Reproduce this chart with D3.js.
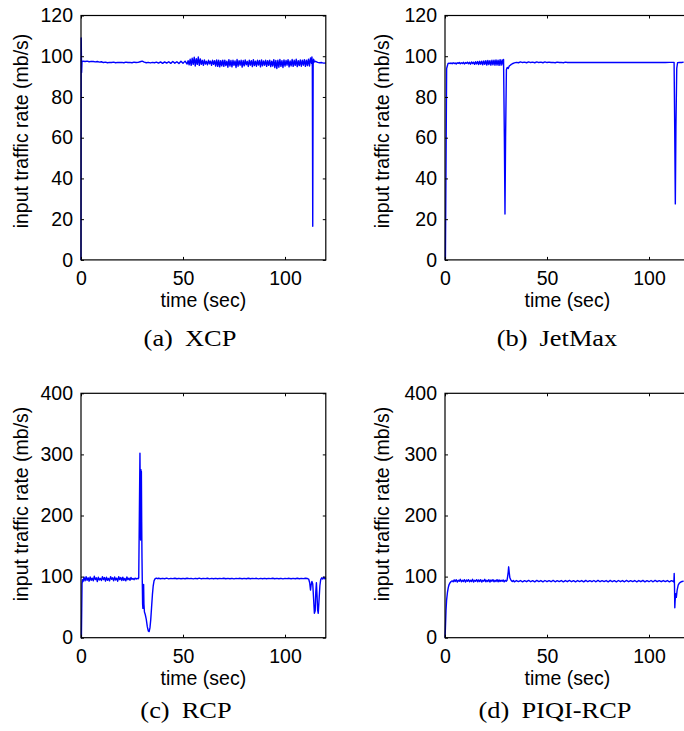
<!DOCTYPE html>
<html><head><meta charset="utf-8">
<script src="https://cdn.jsdelivr.net/npm/d3@7"></script>
<style>
html,body{margin:0;padding:0;background:#fff;}
svg{display:block;}
.tick text{font-family:"Liberation Sans",Arial,sans-serif;font-size:19.5px;fill:#000;}
.lbl{font-family:"Liberation Sans",Arial,sans-serif;font-size:19.5px;fill:#000;}
.cap{font-family:"Liberation Serif","Times New Roman",serif;font-size:24px;fill:#000;word-spacing:5px;}
</style>
</head><body>
<svg id="chart" width="684" height="731"></svg>
<script>
// ---- data (time in sec, input traffic rate in mb/s) ----
const xTicks = [0, 50, 100];
const yTicksTop = [0, 20, 40, 60, 80, 100, 120];
const yTicksBottom = [0, 100, 200, 300, 400];
const captions = ["(a) XCP", "(b) JetMax", "(c) RCP", "(d) PIQI-RCP"];
const xLabel = "time (sec)";
const yLabel = "input traffic rate (mb/s)";

const xcpSeries = [[0,0],[0.1,109],[0.3,92],[0.5,97.5],[1,97.6],[2,97.4],[3,97.6],[4,97.3],[5,97.5],[6,97.4],[7,97.2],[8,97.4],[9,97.1],[10,97.3],
[11,96.9],[12,97.1],[13,96.8],[14,97],[15,96.9],[16,97.1],[17,96.8],[18,97],[19,96.9],[20,97],[21,96.8],[22,97.1],[23,96.9],[24,97],[25,96.8],
[26,97.1],[27,96.9],[28,97],[29,97.3],[30,97.6],[31,97.1],[32,96.8],[33,97],[34,96.7],[35,97],[36,96.8],[37,97.1],[38,96.6],[39,97.2],[40,96.5],
[41,97.2],[42,96.6],[43,97.3],[44,96.5],[45,97.4],[46,96.6],[47,97.3],[48,96.4],[49,97.5],[50,96.5],[51,97.6],[52,96.2],[52.5,97.8],[53,95.8],
[53.5,98.5],[54,95.5],[54.5,99],[55,96],[55.5,99.5],[56,95.2],[56.5,98.8],[57,96],[57.5,99.6],[58,95.5],[58.5,98.7],[59,96],[59.5,98],[60,95.5],
[60.5,98.2],[61,96.2],[61.5,97.5],[62,95.8],[62.5,98],[63,96.3],[63.5,97.6],[64,95.5],[64.5,98],[65,96],[65.5,97.8],[66,95.2],[66.5,98.2],[67,95],
[67.5,98],[68,94.8],[68.5,97.8],[69,95.3],[69.5,98.1],[70,95.0],[70.5,98.1],[71,95.4],[71.5,97.6],[72,94.6],[72.5,98.3],[73,95.2],[73.5,97.9],
[74,94.8],[74.5,98.0],[75,95.5],[75.5,97.7],[76,94.5],[76.5,98.4],[77,95.1],[77.5,97.8],[78,95.6],[78.5,98.0],[79,94.7],[79.5,97.9],[80,95.3],
[80.5,98.2],[81,95.8],[81.5,97.5],[82,95.0],[82.5,98.1],[83,95.6],[83.5,97.8],[84,94.9],[84.5,98.3],[85,95.4],[85.5,97.6],[86,95.1],[86.5,98.0],
[87,95.7],[87.5,97.9],[88,94.8],[88.5,98.2],[89,95.3],[89.5,97.7],[90,95.6],[90.5,98.0],[91,95.0],[91.5,97.8],[92,95.5],[92.5,98.1],[93,94.9],
[93.5,97.6],[94,95.2],[94.5,98.3],[95,94.4],[95.5,97.9],[96,94.0],[96.5,98.0],[97,94.6],[97.5,98.4],[98,95.0],[98.5,97.8],[99,94.5],[99.5,98.2],
[100,95.2],[100.5,97.9],[101,95.6],[101.5,98.3],[102,94.8],[102.5,97.7],[103,95.3],[103.5,98.4],[104,95.0],[104.5,98.0],[105,95.5],[105.5,98.5],
[106,94.9],[106.5,97.8],[107,95.4],[107.5,98.2],[108,95.1],[108.5,98.0],[109,95.6],[109.5,98.3],[110,95.0],[110.5,98.1],[111,95.4],[111.5,98.6],
[112,95.2],[112.5,99.2],[113,96.5],[113.2,99.6],[113.4,95],[113.6,16.5],[113.8,96],[114,98.5],[114.5,97.2],[115,97.5],[116,97.0],[117,96.8],
[118,96.9],[119,96.6],[120,96.7]];

const jetmaxSeries = [[0,0],[0.2,0],[0.8,94],[1.5,96.5],[2,96.6],[2.5,96.4],[3,96.7],[3.5,96.3],[4,96.8],[4.5,96.4],[5,96.7],[5.5,96.2],[6,96.8],
[6.5,96.5],[7,96.9],[7.5,96.3],[8,96.8],[8.5,96.4],[9,97.0],[9.5,96.2],[10,96.9],[10.5,96.5],[11,97.1],[11.5,96.3],[12,97.0],[12.5,96.1],[13,97.2],
[13.5,96.4],[14,97.1],[14.5,96.0],[15,97.3],[15.5,96.2],[16,97.4],[16.5,95.9],[17,97.5],[17.5,96.1],[18,97.6],[18.5,95.8],[19,97.7],[19.5,96.0],
[20,97.8],[20.5,95.7],[21,97.9],[21.5,95.9],[22,97.8],[22.5,95.6],[23,98.0],[23.5,95.8],[24,98.1],[24.5,95.6],[25,98.2],[25.5,95.7],[26,98.1],
[26.5,95.5],[27,98.3],[27.5,95.6],[28,98.2],[28.5,95.8],[28.7,98.4],[29.1,60],[29.4,22.5],[29.7,60],[30.1,93.5],[30.5,94.5],[31,94.0],[31.5,95.2],
[32,95.6],[32.5,96.0],[33,96.3],[34,96.7],[35,97.0],[36,96.8],[37,97.2],[38,96.9],[39,97.1],[40,96.8],[41,97.2],[42,96.9],[43,97.1],[44,96.8],
[45,97.2],[46,96.9],[47,97.1],[48,96.8],[49,97.2],[50,96.9],[51,97.1],[52,96.9],[53,97.0],[54,96.8],[55,97.1],[56,96.9],[57,97.0],[58,96.8],
[59,97.1],[60,96.9],[62,97.0],[64,96.9],[66,97.0],[68,96.9],[70,97.0],[72,96.9],[74,97.0],[76,96.9],[78,97.0],[80,96.9],[82,97.0],[84,96.9],
[86,97.0],[88,96.9],[90,97.0],[92,96.9],[94,97.0],[96,96.9],[98,97.0],[100,96.9],[102,97.0],[104,96.9],[106,97.0],[108,96.9],[110,97.0],
[112.3,97],[112.6,65],[112.9,27.5],[113.2,65],[113.6,94],[114,96.8],[115,97],[116,96.9],[117,97.1]];

const rcpSeries = [[0,0],[0.2,0],[0.5,88],[0.8,95],[1,92],[1.5,99],[2,93],[2.5,100],[3,94],[3.5,98],[4,92.5],[4.5,99.5],[5,94],[5.5,97.5],[6,93],
[6.5,100.5],[7,95],[7.5,98],[8,92],[8.5,99],[9,94.5],[9.5,97],[10,93.5],[10.5,100],[11,95],[11.5,98.5],[12,92.5],[12.5,99],[13,94],[13.5,97],
[14,93],[14.5,100],[15,95.5],[15.5,98],[16,93],[16.5,99.5],[17,94.5],[17.5,97.5],[18,92.5],[18.5,100],[19,95],[19.5,98.5],[20,93.5],[20.5,99],
[21,94],[21.5,97],[22,93],[22.5,99.5],[23,95],[23.5,97.5],[24,94],[24.5,98.5],[25,95.5],[25.5,97],[26,95],[26.5,97.5],[27,96],[27.5,97],[28,96.5],
[28.3,98],[28.6,200],[28.9,302],[29.05,240],[29.2,160],[29.4,275],[29.5,210],[29.6,272],[29.75,190],[29.9,130],[30.05,90],[30.2,55],[30.35,48],
[30.5,65],[30.7,87],[30.85,55],[31.1,42],[31.5,38],[32,30],[32.5,18],[33,11],[33.4,10],[33.8,16],[34.2,30],[34.6,50],[35,70],[35.4,85],[35.8,93],
[36.3,96.5],[37,97.5],[37.5,96.5],[38,97.3],[39,96.4],[40,97.2],[41,96.5],[42,97.4],[43,96.3],[44,97.1],[45,96.6],[46,97.3],[47,96.4],[48,97.2],
[49,96.5],[50,97.0],[51,96.4],[52,97.3],[53,96.6],[54,97.1],[55,96.3],[56,97.2],[57,96.5],[58,97.4],[59,96.4],[60,97.0],[61,96.6],[62,97.3],
[63,96.2],[64,97.1],[65,96.5],[66,97.2],[67,96.4],[68,97.0],[69,96.6],[70,97.3],[71,96.4],[72,97.1],[73,96.5],[74,97.2],[75,96.3],[76,97.0],
[77,96.6],[78,97.2],[79,96.4],[80,97.1],[81,96.5],[82,97.3],[83,96.4],[84,97.0],[85,96.6],[86,97.2],[87,96.3],[88,97.1],[89,96.5],[90,97.2],
[91,96.4],[92,97.0],[93,96.6],[94,97.3],[95,96.4],[96,97.1],[97,96.5],[98,97.2],[99,96.3],[100,97.0],[101,96.6],[102,97.2],[103,96.4],[104,97.1],
[105,96.5],[106,97.3],[107,96.4],[108,97.0],[109,96.6],[110,97.2],[111,96.8],[111.6,96],[112.1,90],[112.5,78],[112.8,86],[113.2,92],[113.6,88],
[114,65],[114.4,40],[114.8,44],[115.1,75],[115.4,90],[115.7,70],[116,45],[116.3,40],[116.7,62],[117.1,85],[117.5,95],[118,98],[118.5,96],
[119,99],[119.5,96.5],[120,98]];

const piqiSeries = [[0,0],[0.2,15],[0.5,45],[0.8,62],[1.2,74],[1.6,82],[2,87],[2.5,90],[3,92],[3.5,93],[4,91.5],[4.5,94.5],[5,92],[5.5,95],[6,91],
[6.5,94],[7,92.5],[7.5,95.5],[8,91.5],[8.5,94],[9,92],[9.5,95],[10,91],[10.5,94.5],[11,92.5],[11.5,95],[12,91.5],[12.5,94],[13,92],[13.5,95.5],
[14,91],[14.5,94],[15,92.5],[15.5,95],[16,91.5],[16.5,94.5],[17,92],[17.5,95],[18,91],[18.5,94],[19,92.5],[19.5,95.5],[20,91.5],[20.5,94],[21,92],
[21.5,95],[22,91],[22.5,94.5],[23,92.5],[23.5,95],[24,91.5],[24.5,94],[25,92],[25.5,95],[26,91.5],[26.5,94.5],[27,92],[27.5,94],[28,92.5],
[28.5,94.5],[29,91.5],[29.5,94],[30,92.5],[30.4,94],[30.7,100],[31,108],[31.2,116],[31.5,106],[31.8,98],[32.2,95],[32.6,93],[33,92],[33.5,93.5],
[34,91.5],[35,93.5],[36,91.8],[37,93.6],[38,91.5],[39,93.4],[40,91.7],[41,93.8],[42,91.6],[43,93.3],[44,91.4],[45,93.7],[46,91.8],[47,93.5],
[48,91.5],[49,93.6],[50,91.7],[51,93.4],[52,91.6],[53,93.8],[54,91.5],[55,93.3],[56,91.8],[57,93.6],[58,91.4],[59,93.5],[60,91.7],[61,93.7],
[62,91.6],[63,93.4],[64,91.5],[65,93.6],[66,91.8],[67,93.5],[68,91.4],[69,93.7],[70,91.6],[71,93.3],[72,91.7],[73,93.6],[74,91.5],[75,93.8],
[76,91.6],[77,93.4],[78,91.8],[79,93.5],[80,91.5],[81,93.7],[82,91.6],[83,93.3],[84,91.4],[85,93.6],[86,91.7],[87,93.5],[88,91.5],[89,93.8],
[90,91.6],[91,93.4],[92,91.8],[93,93.6],[94,91.5],[95,93.5],[96,91.7],[97,93.7],[98,91.4],[99,93.3],[100,91.6],[101,93.6],[102,91.5],[103,93.8],
[104,91.7],[105,93.4],[106,91.6],[107,93.5],[108,91.8],[109,93.6],[110,91.5],[111,93.4],[112,92],[112.2,91],[112.35,105],[112.5,85],[112.65,49],
[112.8,60],[113.1,72],[113.4,66],[113.8,78],[114.3,86],[114.8,89],[115.5,91],[116.2,92],[117,92.5]];

// ---- layout ----
const svg = d3.select("#chart");
const plotW = 244.8, plotH = 244.4;
const panels = [
  {series: xcpSeries,    yMax: 120, yTicks: yTicksTop,    left: 81,  top: 15.5,  cap: captions[0], capX: 190, capY: 346, ylx: 22,  yly: 131},
  {series: jetmaxSeries, yMax: 120, yTicks: yTicksTop,    left: 445, top: 15.5,  cap: captions[1], capX: 557, capY: 346, ylx: 383, yly: 131},
  {series: rcpSeries,    yMax: 400, yTicks: yTicksBottom, left: 81,  top: 393.3, cap: captions[2], capX: 186, capY: 718, ylx: 22,  yly: 504},
  {series: piqiSeries,   yMax: 400, yTicks: yTicksBottom, left: 445, top: 393.3, cap: captions[3], capX: 555, capY: 718, ylx: 383, yly: 504}
];

panels.forEach(p => {
  const x = d3.scaleLinear().domain([0, 120]).range([p.left, p.left + plotW]);
  const y = d3.scaleLinear().domain([0, p.yMax]).range([p.top + plotH, p.top]);
  const g = svg.append("g");

  // data line
  g.append("path")
    .datum(p.series)
    .attr("fill", "none")
    .attr("stroke", "#0000ff")
    .attr("stroke-width", 1.4)
    .attr("stroke-linejoin", "round")
    .attr("d", d3.line().x(d => x(d[0])).y(d => y(d[1])));

  // axes with inward ticks
  const ax = (gen, tr) => {
    const a = g.append("g").attr("transform", tr).call(gen);
    a.select(".domain").remove();
    a.selectAll(".tick line").attr("stroke", "#000").attr("stroke-width", 1);
    return a;
  };
  ax(d3.axisBottom(x).tickValues(xTicks).tickSize(-3).tickPadding(11).tickFormat(d3.format("d")), `translate(0,${p.top + plotH})`)
    .selectAll("text").attr("dy", "0.71em");
  ax(d3.axisLeft(y).tickValues(p.yTicks).tickSize(-3).tickPadding(8).tickFormat(d3.format("d")), `translate(${p.left},0)`);
  ax(d3.axisTop(x).tickValues(xTicks).tickSize(-3).tickFormat(""), `translate(0,${p.top})`);
  ax(d3.axisRight(y).tickValues(p.yTicks).tickSize(-3).tickFormat(""), `translate(${p.left + plotW},0)`);

  // box
  g.append("rect")
    .attr("x", p.left).attr("y", p.top)
    .attr("width", plotW).attr("height", plotH)
    .attr("fill", "none").attr("stroke", "#000").attr("stroke-width", 1.2);

  // labels
  g.append("text").attr("class", "lbl")
    .attr("x", p.left + plotW / 2).attr("y", p.top + plotH + 47.5)
    .attr("text-anchor", "middle").text(xLabel);
  g.append("text").attr("class", "lbl")
    .attr("transform", `translate(${p.ylx + 6},${p.yly}) rotate(-90)`)
    .attr("text-anchor", "middle").text(yLabel);
  const cap = g.append("text").attr("class", "cap")
    .attr("x", p.capX).attr("y", p.capY)
    .text(p.cap);
  const natural = cap.node().getComputedTextLength();
  const w = natural * 1.1;
  cap.attr("x", p.capX - w / 2)
    .attr("textLength", w).attr("lengthAdjust", "spacingAndGlyphs");
});
</script>
</body></html>
